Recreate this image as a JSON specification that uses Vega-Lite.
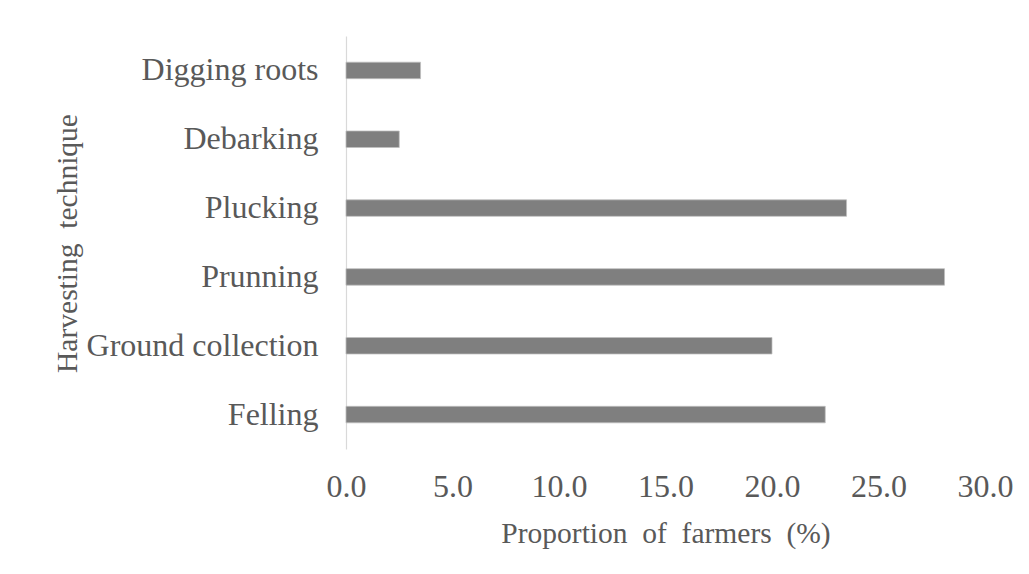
{
  "$schema": "https://vega.github.io/schema/vega-lite/v6.json",
  "autosize": {"type": "none"},
  "padding": {"left": 346, "top": 36, "right": 44, "bottom": 125},
  "width": 639,
  "height": 413,
  "background": "white",
  "config": {
    "view": {"stroke": null},
    "font": "Times New Roman, Liberation Serif, DejaVu Serif, serif"
  },
  "data": {
    "values": [
      {"technique": "Digging roots", "proportion": 3.5},
      {"technique": "Debarking", "proportion": 2.5},
      {"technique": "Plucking", "proportion": 23.5},
      {"technique": "Prunning", "proportion": 28.1},
      {"technique": "Ground collection", "proportion": 20.0},
      {"technique": "Felling", "proportion": 22.5}
    ]
  },
  "mark": {"type": "bar", "color": "#7f7f7f", "stroke": "#bfbfbf", "strokeWidth": 0.75},
  "encoding": {
    "y": {
      "field": "technique",
      "type": "nominal",
      "sort": null,
      "scale": {"paddingInner": 0.76, "paddingOuter": 0.38},
      "axis": {
        "title": "Harvesting\u00a0 technique",
        "titleFont": "Times New Roman, Liberation Serif, DejaVu Serif, serif",
        "titleFontSize": 29.5,
        "titleFontWeight": "normal",
        "titleColor": "#595959",
        "titleAngle": 270,
        "titleAlign": "center",
        "titleBaseline": "alphabetic",
        "titleX": -270,
        "titleY": 207,
        "labelFont": "Times New Roman, Liberation Serif, DejaVu Serif, serif",
        "labelFontSize": 32,
        "labelColor": "#595959",
        "labelPadding": 28,
        "labelLimit": 400,
        "ticks": false,
        "tickSize": 0,
        "domainColor": "#d9d9d9",
        "domainWidth": 1.2,
        "grid": false
      }
    },
    "x": {
      "field": "proportion",
      "type": "quantitative",
      "scale": {"domain": [0, 30], "nice": false},
      "axis": {
        "title": "Proportion\u00a0 of\u00a0 farmers\u00a0 (%)",
        "titleFont": "Times New Roman, Liberation Serif, DejaVu Serif, serif",
        "titleFontSize": 29.5,
        "titleFontWeight": "normal",
        "titleColor": "#595959",
        "titleBaseline": "alphabetic",
        "titleX": 319.5,
        "titleY": 93,
        "values": [0, 5, 10, 15, 20, 25, 30],
        "format": ".1f",
        "labelFont": "Times New Roman, Liberation Serif, DejaVu Serif, serif",
        "labelFontSize": 32,
        "labelColor": "#595959",
        "labelBaseline": "alphabetic",
        "labelPadding": 47,
        "labelFlush": false,
        "labelOverlap": false,
        "ticks": false,
        "tickSize": 0,
        "domain": false,
        "grid": false
      }
    }
  }
}
